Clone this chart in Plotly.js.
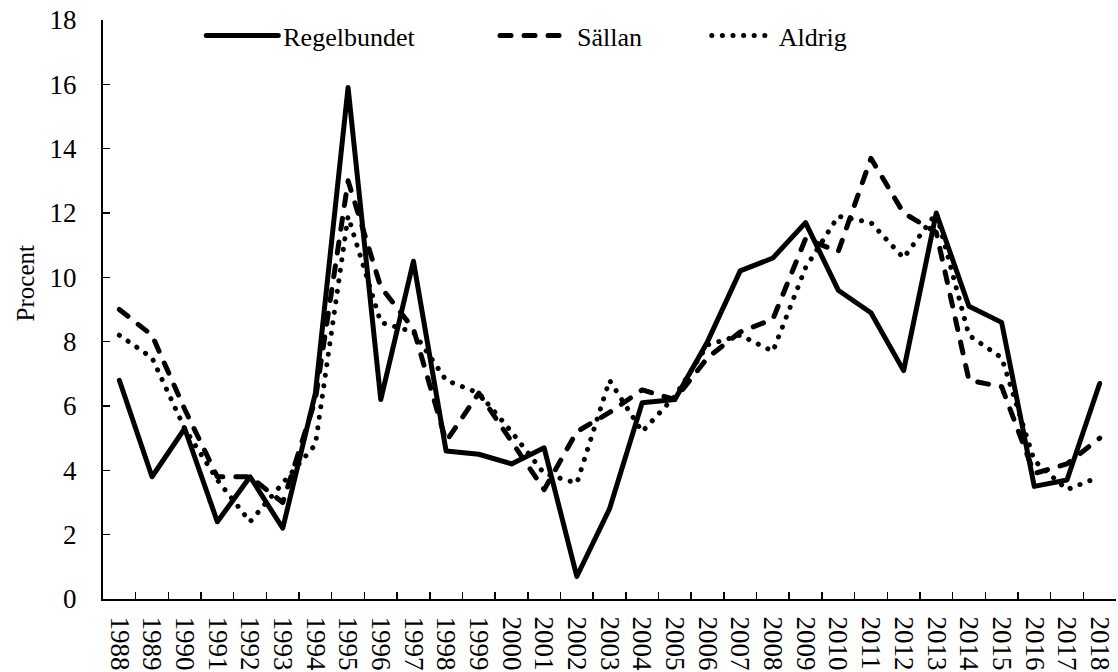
<!DOCTYPE html>
<html>
<head>
<meta charset="utf-8">
<script src="https://cdn.plot.ly/plotly-3.0.1.min.js"></script>
<style>
html,body{margin:0;padding:0;background:#fff;}
#chart{width:1118px;height:672px;}
.scatterlayer path.js-line, .legendlines path{stroke-linecap:round;stroke-linejoin:round;}
</style>
</head>
<body>
<div id="chart"></div>
<script>
var years = ["1988","1989","1990","1991","1992","1993","1994","1995","1996","1997","1998","1999","2000","2001","2002","2003","2004","2005","2006","2007","2008","2009","2010","2011","2012","2013","2014","2015","2016","2017","2018"];
var regelbundet = [6.8,3.8,5.3,2.4,3.8,2.2,6.4,15.9,6.2,10.5,4.6,4.5,4.2,4.7,0.7,2.8,6.1,6.2,8.0,10.2,10.6,11.7,9.6,8.9,7.1,12.0,9.1,8.6,3.5,3.7,6.7];
var sallan = [9.0,8.2,5.9,3.8,3.8,3.0,6.2,13.0,9.7,8.4,4.9,6.4,4.9,3.4,5.2,5.8,6.5,6.2,7.5,8.3,8.7,11.2,10.8,13.7,12.0,11.4,6.8,6.6,3.9,4.2,5.0];
var aldrig = [8.2,7.5,5.3,3.7,2.4,3.6,4.8,11.9,8.6,8.3,6.8,6.4,5.2,3.9,3.6,6.8,5.2,6.3,7.9,8.2,7.7,10.3,11.9,11.7,10.6,12.0,8.2,7.5,4.3,3.4,3.8];
var seriesNames = ["Regelbundet","Sällan","Aldrig"];
var yTitle = "Procent";

var FONT = "'Liberation Serif', 'Times New Roman', serif";
var FS = 26;

var traces = [
  {x: years, y: regelbundet, name: seriesNames[0], type: "scatter", mode: "lines",
   line: {color: "#000", width: 5, dash: "solid"}, legend: "legend"},
  {x: years, y: sallan, name: seriesNames[1], type: "scatter", mode: "lines",
   line: {color: "#000", width: 5, dash: "11px,13px"}, legend: "legend2"},
  {x: years, y: aldrig, name: seriesNames[2], type: "scatter", mode: "lines",
   line: {color: "#000", width: 5, dash: "0.1px,10.5px"}, legend: "legend3"}
];

function leg(x, w){
  return {x: x, y: 0.973, xref: "paper", yref: "paper", xanchor: "left", yanchor: "middle",
    orientation: "h", bgcolor: "rgba(0,0,0,0)", borderwidth: 0,
    font: {family: FONT, size: FS, color: "#000"}, itemwidth: w};
}

var layout = {
  width: 1118, height: 672,
  margin: {l: 103, r: 2, t: 20, b: 73, pad: 0},
  paper_bgcolor: "#fff", plot_bgcolor: "#fff",
  font: {family: FONT, size: FS, color: "#000"},
  showlegend: true,
  legend: leg(0.097, 72),
  legend2: leg(0.387, 72),
  legend3: leg(0.596, 62),
  xaxis: {
    type: "category", range: [-0.5, 30.5], tickson: "boundaries",
    tickmode: "array", tickvals: years, ticktext: years,
    ticks: "inside", ticklen: 7, tickwidth: 1.5, tickcolor: "#000",
    showline: true, linecolor: "#000", linewidth: 2, showgrid: false, zeroline: false,
    tickangle: 90, tickfont: {family: FONT, size: 27, color: "#000"}, ticklabelstandoff: 10
  },
  yaxis: {
    range: [0, 18], dtick: 2, tick0: 0,
    ticks: "inside", ticklen: 7, tickwidth: 1.5, tickcolor: "#000",
    showline: true, linecolor: "#000", linewidth: 2, showgrid: false, zeroline: false,
    tickfont: {family: FONT, size: 27, color: "#000"}, ticklabelstandoff: 19
  },
  annotations: [{
    text: yTitle, xref: "paper", yref: "paper", x: -0.077, y: 0.545,
    xanchor: "center", yanchor: "middle", textangle: -90, showarrow: false,
    font: {family: FONT, size: 25, color: "#000"}
  }]
};

Plotly.newPlot("chart", traces, layout, {displayModeBar: false, staticPlot: true});
</script>
</body>
</html>
